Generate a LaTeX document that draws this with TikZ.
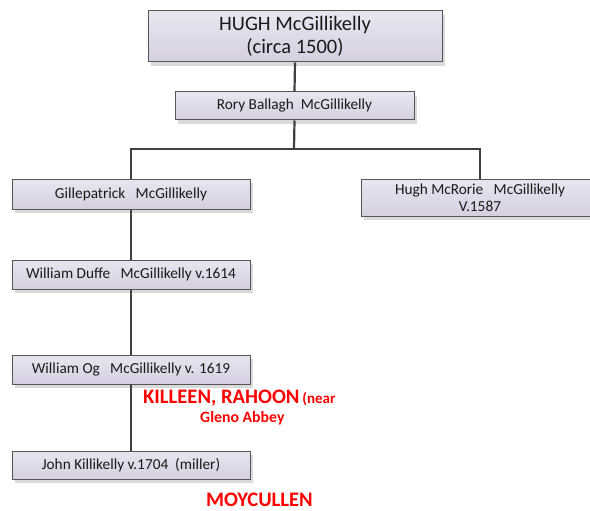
\documentclass[tikz,border=0pt]{standalone}
\usepackage{fontspec}
\setmainfont{Carlito}
\usetikzlibrary{shadows}
\definecolor{boxtop}{HTML}{E9E5F0}
\definecolor{boxbot}{HTML}{D5CFE1}
\definecolor{boxline}{HTML}{555555}
\definecolor{txt}{HTML}{1A1A1A}
\definecolor{conn}{HTML}{404040}
\definecolor{shad}{HTML}{DADADA}
\begin{document}
\begin{tikzpicture}[x=1pt,y=-1pt,
  person/.style={rectangle, draw=boxline, line width=1pt, top color=boxtop, bottom color=boxbot,
    minimum width=238pt, inner sep=0pt, align=center, text=txt, font=\fontsize{15.3}{17}\selectfont,
    general shadow={fill=shad, shadow xshift=3pt, shadow yshift=-4pt}},
  link/.style={draw=conn, line width=2.2pt},
  place/.style={text=red, font=\bfseries, inner sep=0pt}]
\clip (0,0) rectangle (590,511);
\useasboundingbox (0,0) rectangle (590,511);
\node[person, minimum width=294pt, minimum height=51pt, font=\fontsize{20.5}{23}\selectfont] (hugh) at (295,36.5) {HUGH McGillikelly\\(circa 1500)};
\node[person, minimum width=239pt, minimum height=28pt] (rory) at (294.5,106) {Rory Ballagh\ \ McGillikelly};
\node[person, minimum height=30pt] (gille) at (131,194) {Gillepatrick\ \ \ McGillikelly};
\node[person, minimum height=37pt, font=\fontsize{15.3}{16.5}\selectfont] (mcrorie) at (480,197.5) {Hugh McRorie\ \ \ McGillikelly\\V.1587};
\node[person, minimum height=29pt] (duffe) at (131,274.5) {William Duffe\ \ \ McGillikelly v.1614};
\node[person, minimum height=29pt] (og) at (131,369.5) {William Og\ \ \ McGillikelly v. 1619};
\node[person, minimum height=28pt] (john) at (131,465) {John Killikelly v.1704\ \ (miller)};
\coordinate (bus) at (294,149);
\draw[link] (hugh.south) -- (rory.north);
\draw[link] (rory.south) -- (bus);
\draw[link] (gille.north) -- (gille.north |- bus) -- (mcrorie.north |- bus) -- (mcrorie.north);
\draw[link] (gille.south) -- (duffe.north);
\draw[link] (duffe.south) -- (og.north);
\draw[link] (og.south) -- (john.north);
\node[place, anchor=base west, font=\bfseries\fontsize{20.6}{22}\selectfont] (killeen) at (143,403) {KILLEEN, RAHOON};
\node[place, anchor=base west, font=\bfseries\fontsize{15}{17}\selectfont] (near) at (killeen.base east) {\,(near};
\node[place, anchor=base west, font=\bfseries\fontsize{15.8}{17}\selectfont] (gleno) at (200,422.5) {Gleno Abbey};
\node[place, anchor=base west, font=\bfseries\fontsize{20.6}{22}\selectfont] (moy) at (206,506) {MOYCULLEN};
\end{tikzpicture}
\end{document}
